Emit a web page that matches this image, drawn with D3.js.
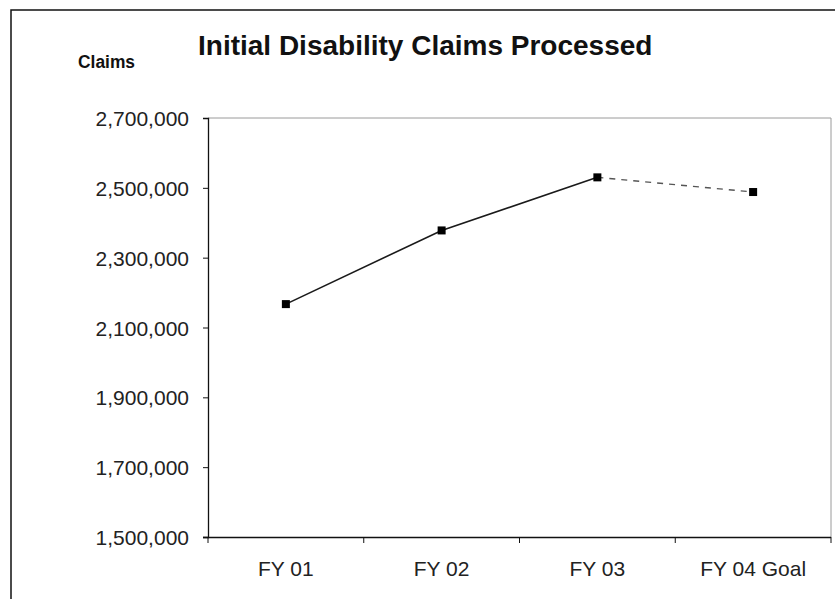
<!DOCTYPE html>
<html>
<head>
<meta charset="utf-8">
<script src="https://cdn.jsdelivr.net/npm/d3@7"></script>
<style>
  html, body { margin: 0; padding: 0; background: #fff; }
  svg { display: block; }
</style>
</head>
<body>
<div id="vis"></div>
<script>
(function () {
  'use strict';

  var CATEGORIES = ['FY 01', 'FY 02', 'FY 03', 'FY 04 Goal'];
  var CLAIMS = [2167000, 2378000, 2530000, 2488000];
  // the last segment (actual -> goal) is dashed
  var ACTUAL_COUNT = 3;
  var Y_TICKS = [1500000, 1700000, 1900000, 2100000, 2300000, 2500000, 2700000];
  var TITLE = 'Initial Disability Claims Processed';
  var Y_LABEL = 'Claims';

  var WIDTH = 835;
  var HEIGHT = 599;
  var PLOT = { left: 208, top: 118, right: 831, bottom: 537 };
  var FONT = 'Arial, "Liberation Sans", sans-serif';

  var svg = d3.select('#vis').append('svg')
    .attr('width', WIDTH)
    .attr('height', HEIGHT);

  // outer chart frame (right and bottom edges fall off the picture)
  svg.append('path')
    .attr('d', 'M11,' + HEIGHT + 'V10H' + WIDTH)
    .attr('fill', 'none')
    .attr('stroke', '#111')
    .attr('stroke-width', 1.5);

  var x = d3.scaleBand()
    .domain(CATEGORIES)
    .range([PLOT.left, PLOT.right]);
  var y = d3.scaleLinear()
    .domain([Y_TICKS[0], Y_TICKS[Y_TICKS.length - 1]])
    .range([PLOT.bottom, PLOT.top]);

  // plot area border, top + right (light gray)
  svg.append('path')
    .attr('d', 'M' + PLOT.left + ',' + PLOT.top + 'H' + PLOT.right + 'V' + PLOT.bottom)
    .attr('fill', 'none')
    .attr('stroke', '#9a9a9a')
    .attr('stroke-width', 1);

  var yAxis = svg.append('g')
    .attr('transform', 'translate(' + PLOT.left + ',0)')
    .call(d3.axisLeft(y).tickValues(Y_TICKS).tickSize(5).tickPadding(14)
      .tickFormat(d3.format(',')));

  var xAxis = svg.append('g')
    .attr('transform', 'translate(0,' + PLOT.bottom + ')')
    .call(d3.axisBottom(x).tickSize(0).tickPadding(24));

  // Excel-style ticks sit between categories
  xAxis.selectAll('.boundary')
    .data(CATEGORIES.concat(['end']))
    .enter().append('line')
    .attr('class', 'boundary')
    .attr('x1', function (d, i) { return i < CATEGORIES.length ? x(d) : PLOT.right; })
    .attr('x2', function (d, i) { return i < CATEGORIES.length ? x(d) : PLOT.right; })
    .attr('y1', 0)
    .attr('y2', 6)
    .attr('stroke', '#111');

  [yAxis, xAxis].forEach(function (g) {
    g.select('.domain').attr('stroke', '#111').attr('stroke-width', 1.3);
    g.selectAll('.tick line').attr('stroke', '#111');
    g.selectAll('text')
      .attr('font-family', FONT)
      .attr('font-size', 21)
      .attr('fill', '#222');
  });
  yAxis.selectAll('text').attr('dy', '0.36em');
  // x axis line pokes out left of the y axis, like the reference
  xAxis.select('.domain').attr('d', 'M' + (PLOT.left - 5) + ',0.5H' + PLOT.right);

  var pts = CATEGORIES.map(function (c, i) {
    return [x(c) + x.bandwidth() / 2, y(CLAIMS[i])];
  });

  var line = d3.line();
  svg.append('path')
    .attr('d', line(pts.slice(0, ACTUAL_COUNT)))
    .attr('fill', 'none')
    .attr('stroke', '#1a1a1a')
    .attr('stroke-width', 1.6);
  svg.append('path')
    .attr('d', line(pts.slice(ACTUAL_COUNT - 1)))
    .attr('fill', 'none')
    .attr('stroke', '#555')
    .attr('stroke-width', 1.4)
    .attr('stroke-dasharray', '6,6');

  svg.selectAll('rect.marker')
    .data(pts)
    .enter().append('rect')
    .attr('class', 'marker')
    .attr('x', function (d) { return d[0] - 4; })
    .attr('y', function (d) { return d[1] - 4; })
    .attr('width', 8)
    .attr('height', 8)
    .attr('fill', '#000');

  svg.append('text')
    .attr('x', 198)
    .attr('y', 55)
    .attr('font-family', FONT)
    .attr('font-weight', 'bold')
    .attr('font-size', 28)
    .attr('fill', '#111')
    .text(TITLE);

  svg.append('text')
    .attr('x', 78)
    .attr('y', 68)
    .attr('font-family', FONT)
    .attr('font-weight', 'bold')
    .attr('font-size', 18)
    .attr('textLength', 57)
    .attr('lengthAdjust', 'spacingAndGlyphs')
    .attr('fill', '#111')
    .text(Y_LABEL);
})();
</script>
</body>
</html>
